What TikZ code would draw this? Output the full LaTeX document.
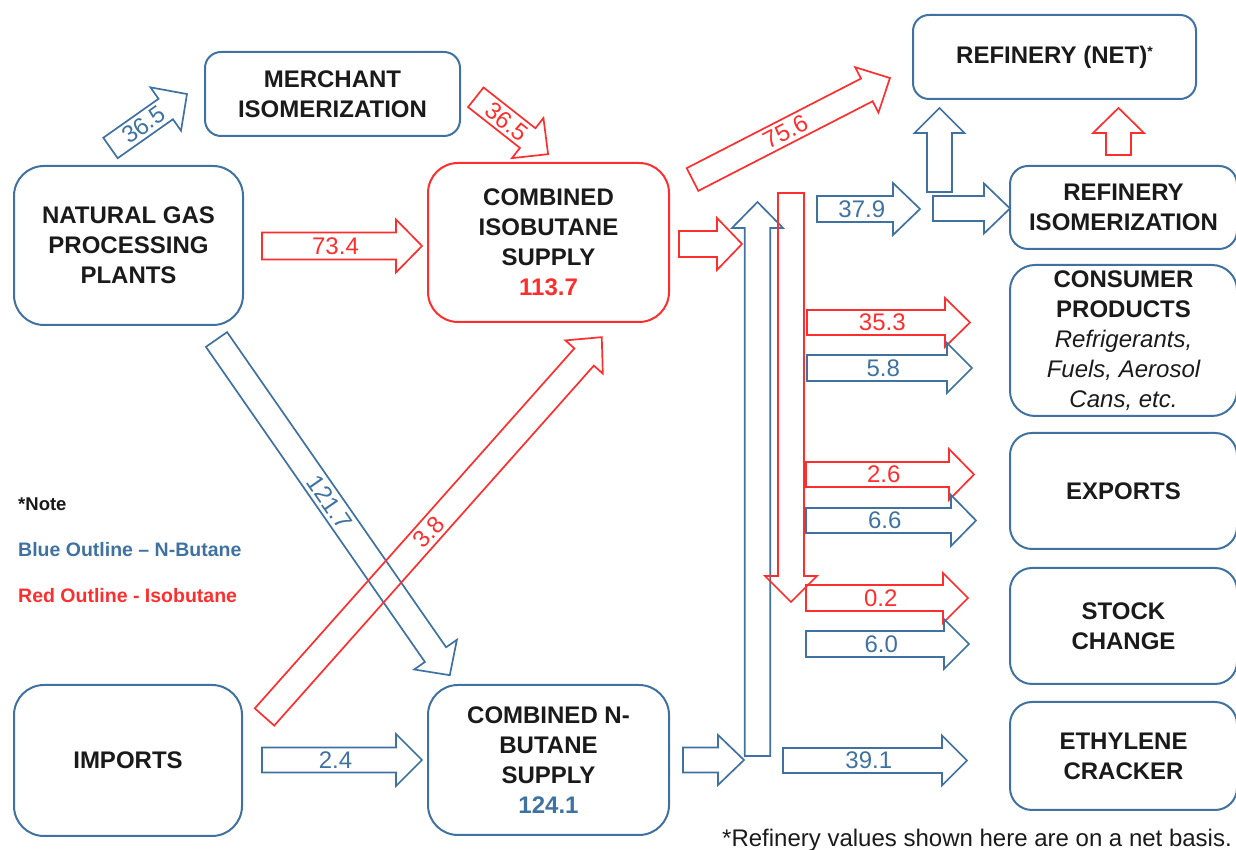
\documentclass[tikz,border=0pt]{standalone}
\usepackage{fontspec}
\setmainfont{Liberation Sans}
\definecolor{nblue}{HTML}{3F72A0}
\definecolor{ired}{HTML}{FF2E2E}
\definecolor{ink}{HTML}{1A1A1A}
\newcommand\boxfont{\fontsize{24}{30}\selectfont\bfseries}
\newcommand\lblfont{\fontsize{24}{28}\selectfont}
\tikzset{
  unit/.style={draw=nblue, line width=2pt, align=center, inner sep=0pt,
    text=ink, font=\boxfont},
  isounit/.style={unit, draw=ired},
  flow/.style={line width=1.7pt, line join=miter},
  lbl/.style={inner sep=0pt, font=\lblfont},
  legend/.style={anchor=base west, inner sep=0pt, font=\fontsize{19.5}{22}\selectfont\bfseries},
}
% block arrow: colour, tail x, tail y, angle, length, shaft half-width,
% head half-width, head length, label
\newcommand\flowarrow[9]{%
  \begin{scope}[shift={(#2,#3)}, rotate=#4]
    \draw[flow, draw=#1] (0,-#6) -- ({#5-#8},-#6) -- ({#5-#8},-#7) -- (#5,0)
      -- ({#5-#8},#7) -- ({#5-#8},#6) -- (0,#6) -- cycle;
    \node[lbl, text=#1, transform shape] at ({(#5-#8/2)/2},0) {#9};
  \end{scope}}
\begin{document}
\begin{tikzpicture}[x=1pt, y=1pt]
\useasboundingbox (0,0) rectangle (1236,850);

% sources and supplies
\node[unit, rounded corners=30pt, minimum width=229pt, minimum height=159pt]
  (ngpp) at (128.5,604.5) {NATURAL GAS\\PROCESSING\\PLANTS};
\node[unit, rounded corners=16pt, minimum width=255pt, minimum height=84pt]
  (merch) at (332.5,756) {MERCHANT\\ISOMERIZATION};
\node[isounit, rounded corners=30pt, minimum width=241pt, minimum height=159pt]
  (cis) at (548.5,607.5) {COMBINED\\ISOBUTANE\\SUPPLY\\\textcolor{ired}{113.7}};
\node[unit, rounded corners=30pt, minimum width=228pt, minimum height=151pt]
  (imp) at (128,89.5) {IMPORTS};
\node[unit, rounded corners=30pt, minimum width=241pt, minimum height=150pt]
  (cnb) at (548.5,90) {COMBINED N-\\BUTANE\\SUPPLY\\\textcolor{nblue}{124.1}};

% destinations
\node[unit, rounded corners=16pt, minimum width=283pt, minimum height=84pt]
  (refnet) at (1054.5,793) {REFINERY (NET)\raisebox{7pt}[0pt][0pt]{\fontsize{14}{14}\selectfont *}};
\node[unit, rounded corners=18pt, minimum width=227pt, minimum height=83pt]
  (refiso) at (1123.5,642.5) {REFINERY\\ISOMERIZATION};
\node[unit, rounded corners=25pt, minimum width=227pt, minimum height=151pt]
  (cons) at (1123.5,509.5) {CONSUMER\\PRODUCTS\\{\mdseries\itshape Refrigerants,}\\{\mdseries\itshape Fuels, Aerosol}\\{\mdseries\itshape Cans, etc.}};
\node[unit, rounded corners=22pt, minimum width=227pt, minimum height=116pt]
  (exp) at (1123.5,359) {EXPORTS};
\node[unit, rounded corners=22pt, minimum width=227pt, minimum height=116pt]
  (stock) at (1123.5,224) {STOCK\\CHANGE};
\node[unit, rounded corners=22pt, minimum width=227pt, minimum height=108pt]
  (eth) at (1123.5,94) {ETHYLENE\\CRACKER};

% flows into the supplies
\flowarrow{nblue}{110.5}{702}{35.2}{93.6}{12.5}{26.5}{26}{36.5}
\flowarrow{ired}{475.8}{752.7}{-38.2}{92}{12.5}{25.5}{26}{36.5}
\flowarrow{ired}{262}{604}{0}{160}{13.5}{26.5}{26}{73.4}
\flowarrow{nblue}{216.5}{510.5}{-55.2}{408.8}{12.9}{26}{25}{121.7}
\flowarrow{ired}{264.5}{133}{48.4}{508}{13}{25}{26.6}{3.8}
\flowarrow{nblue}{262}{90}{0}{160}{12.5}{26}{26}{2.4}

% supplies into the trunks
\flowarrow{ired}{679}{606}{0}{63}{13}{26}{25}{}
\flowarrow{nblue}{683}{90}{0}{61}{12.5}{25}{26}{}
\flowarrow{ired}{692.5}{670.5}{27.2}{222}{12.75}{25.5}{26}{75.6}
\flowarrow{nblue}{757.5}{94}{90}{554}{12.8}{25.5}{26}{}
\flowarrow{ired}{791}{657}{-90}{409}{13}{26}{26}{}

% trunks out to the uses
\flowarrow{nblue}{817}{641}{0}{103}{13}{26}{27}{37.9}
\flowarrow{ired}{807}{527.5}{0}{163}{12.5}{24.5}{25}{35.3}
\flowarrow{nblue}{807}{482}{0}{165}{13}{25}{25}{5.8}
\flowarrow{ired}{806}{375.5}{0}{168}{12.5}{25.5}{25}{2.6}
\flowarrow{nblue}{806}{329.5}{0}{170}{12.5}{25.5}{25}{6.6}
\flowarrow{ired}{806}{252}{0}{162}{13}{25}{25}{0.2}
\flowarrow{nblue}{806}{206}{0}{163}{13}{25}{25}{6.0}
\flowarrow{nblue}{783}{89.5}{0}{184}{12.5}{25}{25}{39.1}

% refinery links
\flowarrow{nblue}{939.5}{658}{90}{84}{12.5}{25}{25}{}
\flowarrow{nblue}{933}{641.5}{0}{77}{12.5}{25}{26}{}
\flowarrow{ired}{1118.5}{695}{90}{47}{12.5}{25.5}{25}{}

% legend and footnote
\node[legend, text=ink, font=\fontsize{18.5}{22}\selectfont\bfseries] (note) at (18,339) {*Note};
\node[legend, text=nblue] (nbut) at (18,293) {Blue Outline -- N-Butane};
\node[legend, text=ired] (isob) at (18,247) {Red Outline - Isobutane};
\node[anchor=base west, inner sep=0pt, text=ink, font=\fontsize{24}{28}\selectfont]
  (foot) at (722,3) {*Refinery values shown here are on a net basis.};
\end{tikzpicture}
\end{document}
